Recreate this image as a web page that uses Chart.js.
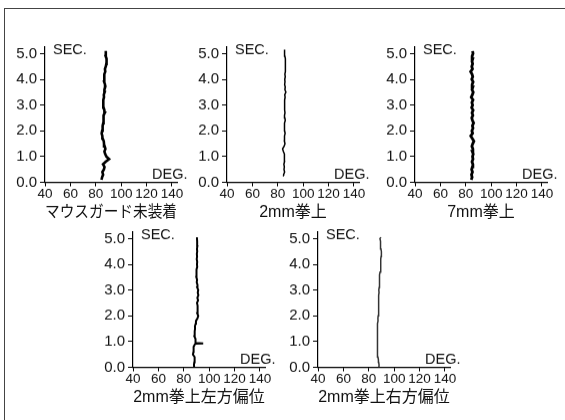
<!DOCTYPE html>
<html>
<head>
<meta charset="utf-8">
<script src="https://cdn.jsdelivr.net/npm/chart.js@4.4.1/dist/chart.umd.min.js"></script>
<style>
  html, body { margin: 0; padding: 0; background: #fff; }
  body { width: 565px; height: 420px; position: relative; overflow: hidden; }
  #frame { position: absolute; left: 4px; top: 8px; width: 600px; height: 500px;
           border-top: 1px solid #444; border-left: 1px solid #444; }
  .box { position: absolute; }
</style>
</head>
<body>
<div id="frame"></div>
<div class="box" id="b1"><canvas id="c1"></canvas></div>
<div class="box" id="b2"><canvas id="c2"></canvas></div>
<div class="box" id="b3"><canvas id="c3"></canvas></div>
<div class="box" id="b4"><canvas id="c4"></canvas></div>
<div class="box" id="b5"><canvas id="c5"></canvas></div>
<script>
// ---- data ----
const captions = ['マウスガード未装着', '2mm拳上', '7mm拳上', '2mm拳上左方偏位', '2mm拳上右方偏位'];
const xTicks = [40, 60, 80, 100, 120, 140];
const yTicks = [0, 1, 2, 3, 4, 5];
const xLabelUnit = 'DEG.';
const yLabelUnit = 'SEC.';

// 1: マウスガード未装着
const sec1 = [0.1,0.2,0.3,0.4,0.5,0.6,0.7,0.8,0.9,1.0,1.1,1.2,1.3,1.4,1.5,1.6,1.7,1.8,1.9,2.0,2.1,2.2,2.3,2.4,2.5,2.6,2.7,2.8,2.9,3.0,3.1,3.2,3.3,3.4,3.5,3.6,3.7,3.8,3.9,4.0,4.1,4.2,4.3,4.4,4.5,4.6,4.7,4.8,4.9,5.0,5.1];
const deg1 = [84.5,85.0,85.8,85.2,86.4,86.9,85.7,87.8,90.5,88.4,87.4,86.8,87.6,87.0,86.5,86.3,85.5,85.2,84.6,85.0,85.6,85.2,85.9,85.7,86.4,86.3,87.1,86.8,86.2,86.3,85.8,85.7,86.5,86.3,87.0,86.8,87.4,87.3,86.6,86.5,86.9,86.8,87.5,87.2,87.9,88.3,88.6,88.4,87.8,88.0,87.8];

// 2: 2mm拳上
const sec2 = [0.25,0.3,0.4,0.5,0.6,0.7,0.8,0.9,1.0,1.1,1.2,1.3,1.4,1.5,1.6,1.7,1.8,1.9,2.0,2.1,2.2,2.3,2.4,2.5,2.6,2.7,2.8,2.9,3.0,3.1,3.2,3.3,3.4,3.5,3.6,3.7,3.8,3.9,4.0,4.1,4.2,4.3,4.4,4.5,4.6,4.7,4.8,4.9,5.0,5.15];
const deg2 = [84.8,84.6,85.4,84.9,85.2,84.8,85.3,85.0,85.6,85.1,84.4,83.8,85.0,85.7,85.2,85.5,85.1,85.8,85.4,85.0,85.6,85.3,85.9,85.6,85.3,85.7,85.4,85.6,85.2,85.5,85.3,85.8,85.5,86.4,85.6,85.9,85.4,85.7,85.5,85.9,85.6,86.0,85.7,86.4,85.8,86.2,85.9,85.6,85.4,85.3];

// 3: 7mm拳上
const sec3 = [0.1,0.2,0.3,0.4,0.5,0.6,0.7,0.8,0.9,1.0,1.1,1.2,1.3,1.4,1.5,1.6,1.7,1.8,1.9,2.0,2.1,2.2,2.3,2.4,2.5,2.6,2.7,2.8,2.9,3.0,3.1,3.2,3.3,3.4,3.5,3.6,3.7,3.8,3.9,4.0,4.1,4.2,4.3,4.4,4.5,4.6,4.7,4.8,4.9,5.0,5.1];
const deg3 = [84.3,85.0,84.5,85.3,84.6,85.2,85.6,84.9,85.7,85.3,85.9,85.1,85.6,84.8,85.5,86.4,85.2,83.9,85.4,84.8,85.7,85.2,86.2,85.3,84.7,85.6,84.9,85.8,84.6,85.4,84.8,85.7,84.3,85.2,85.9,84.9,85.6,85.0,85.8,84.7,85.5,84.9,83.8,85.3,84.7,85.4,84.9,85.5,85.0,85.7,85.4];

// 4: 2mm拳上左方偏位
const sec4 = [0.0,0.1,0.2,0.3,0.4,0.5,0.6,0.7,0.8,0.88,0.92,0.93,0.95,1.0,1.1,1.2,1.3,1.4,1.5,1.6,1.7,1.8,1.9,2.0,2.1,2.2,2.3,2.4,2.5,2.6,2.7,2.8,2.9,3.0,3.1,3.2,3.3,3.4,3.5,3.6,3.7,3.8,3.9,4.0,4.1,4.2,4.3,4.4,4.5,4.6,4.7,4.8,4.9,5.0,5.05];
const deg4 = [88.2,88.0,88.3,88.5,88.6,87.2,87.6,87.5,88.0,88.6,89.2,95.3,89.4,89.5,89.0,88.4,88.7,88.5,88.9,88.8,89.4,89.6,90.8,91.4,90.6,91.2,90.5,91.0,90.4,91.3,90.7,91.5,91.0,91.4,90.6,90.8,90.2,90.5,89.9,89.7,90.3,90.1,90.6,90.4,90.6,90.2,90.5,90.3,90.6,90.4,90.7,90.5,90.6,90.4,90.5];

// 5: 2mm拳上右方偏位
const sec5 = [0.0,0.1,0.2,0.3,0.4,0.5,0.6,0.7,0.8,0.9,1.0,1.1,1.2,1.3,1.4,1.5,1.6,1.7,1.8,1.9,2.0,2.1,2.2,2.3,2.4,2.5,2.6,2.7,2.8,2.9,3.0,3.1,3.2,3.3,3.4,3.5,3.6,3.7,3.8,3.9,4.0,4.1,4.2,4.3,4.4,4.5,4.6,4.7,4.8,4.9,5.0,5.05];
const deg5 = [88.0,88.1,87.8,87.6,87.2,86.9,87.1,86.8,86.7,86.9,86.6,86.8,86.7,86.9,86.8,86.9,87.1,87.0,87.3,87.2,87.4,87.5,87.7,87.6,87.8,87.9,87.8,88.0,87.9,88.1,87.9,88.2,88.3,88.5,88.4,88.4,88.7,88.9,89.2,89.4,89.5,89.6,89.4,89.7,89.9,90.0,89.6,89.3,89.5,89.0,88.8,89.6];

// ---- layout & style ----
const panels = [
  { id: 'c1', box: 'b1', left: 45,  top: 47,  sec: sec1, deg: deg1, color: '#000', width: 2.6 },
  { id: 'c2', box: 'b2', left: 227, top: 47,  sec: sec2, deg: deg2, color: '#000', width: 1.5 },
  { id: 'c3', box: 'b3', left: 415, top: 47,  sec: sec3, deg: deg3, color: '#000', width: 2.8 },
  { id: 'c4', box: 'b4', left: 133, top: 232, sec: sec4, deg: deg4, color: '#000', width: 2.0 },
  { id: 'c5', box: 'b5', left: 318, top: 232, sec: sec5, deg: deg5, color: '#333', width: 1.5 }
];
const AREA_W = 132, AREA_H = 134.5;
const Y_W = 45, X_H = 40, PAD_T = 20, PAD_R = 22;
const TXT = '#111';
const LAT = '"Liberation Sans", Arial, sans-serif';
const CJK = '"Liberation Sans", "Noto Sans CJK JP", sans-serif';

const unitLabels = {
  id: 'unitLabels',
  afterDraw(chart) {
    const a = chart.chartArea, ctx = chart.ctx;
    ctx.save();
    ctx.fillStyle = TXT;
    ctx.font = '14.5px ' + LAT;
    ctx.textBaseline = 'alphabetic';
    ctx.textAlign = 'left';
    ctx.fillText(yLabelUnit, a.left + 8, a.top + 6.5);
    ctx.fillText(xLabelUnit, a.left + 107, a.bottom - 4);
    ctx.restore();
  }
};

panels.forEach((p, i) => {
  const W = Y_W + AREA_W + PAD_R, H = PAD_T + AREA_H + X_H;
  const box = document.getElementById(p.box);
  box.style.left = (p.left - Y_W) + 'px';
  box.style.top = (p.top - PAD_T) + 'px';
  box.style.width = W + 'px';
  box.style.height = H + 'px';
  const pts = p.sec.map((s, k) => ({ x: p.deg[k], y: s }));
  new Chart(document.getElementById(p.id), {
    type: 'scatter',
    data: { datasets: [{ data: pts, showLine: true, borderColor: p.color, backgroundColor: p.color,
                         borderWidth: p.width, pointRadius: 0, tension: 0, borderJoinStyle: 'miter' }] },
    options: {
      responsive: true, maintainAspectRatio: false, animation: false,
      devicePixelRatio: 1,
      layout: { padding: { top: PAD_T, right: PAD_R, left: 0, bottom: 0 } },
      plugins: { legend: { display: false }, tooltip: { enabled: false } },
      scales: {
        x: {
          type: 'linear', min: 40, max: 144,
          afterBuildTicks: s => { s.ticks = xTicks.map(v => ({ value: v })); },
          afterFit: s => { s.height = X_H; },
          grid: { display: true, drawOnChartArea: false, drawTicks: true, tickLength: 4, color: '#000', lineWidth: 1 },
          border: { display: true, color: '#000', width: 1.2 },
          ticks: { color: TXT, font: { family: LAT, size: 13.5 }, padding: 0, maxRotation: 0, autoSkip: false },
          title: { display: true, text: captions[i], color: TXT, font: { family: CJK, size: 16 }, padding: { top: 0, bottom: 0 } }
        },
        y: {
          type: 'linear', min: 0, max: 5.25,
          afterBuildTicks: s => { s.ticks = yTicks.map(v => ({ value: v })); },
          afterFit: s => { s.width = Y_W; },
          grid: { display: true, drawOnChartArea: false, drawTicks: true, tickLength: 5, color: '#000', lineWidth: 1 },
          border: { display: true, color: '#000', width: 1.2 },
          ticks: { color: TXT, font: { family: LAT, size: 15 }, padding: 3, callback: v => v.toFixed(1) }
        }
      }
    },
    plugins: [unitLabels]
  });
});
</script>
</body>
</html>
